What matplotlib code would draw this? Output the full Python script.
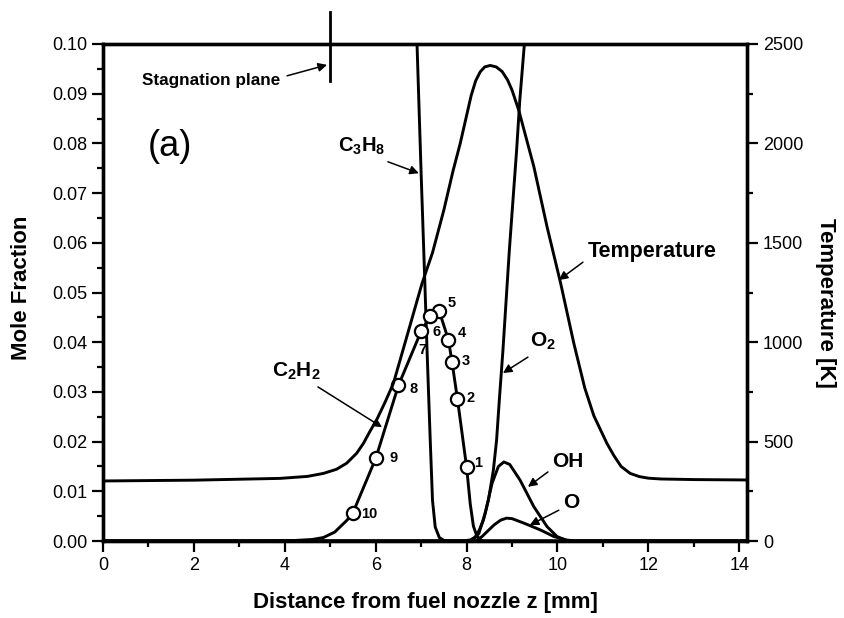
import matplotlib
matplotlib.use("Agg")
import matplotlib.pyplot as plt
from matplotlib.ticker import MultipleLocator

plt.rcParams['font.family'] = ['Liberation Sans', 'DejaVu Sans']
plt.rcParams['mathtext.fontset'] = 'custom'
plt.rcParams['mathtext.rm'] = 'Liberation Sans:bold'
plt.rcParams['mathtext.it'] = 'Liberation Sans:bold'
plt.rcParams['mathtext.bf'] = 'Liberation Sans:bold'

# ---- profiles along the burner axis (z in mm) ----
temp_z = [0.0, 2.0, 3.9, 4.5, 4.85, 5.14, 5.36, 5.58, 5.73, 5.87, 6.02, 6.2, 6.39, 6.7,
          7.02, 7.25, 7.5, 7.7, 7.86, 8.0, 8.1, 8.2, 8.3, 8.4, 8.52, 8.65, 8.78, 8.9,
          9.0, 9.15, 9.48, 9.77, 10.07, 10.36, 10.6, 10.8, 11.09, 11.24, 11.4, 11.6,
          11.8, 12.0, 12.27, 13.0, 14.17]
temp_K = [302, 306, 315, 325, 340, 361, 391, 441, 491, 550, 609, 695, 793, 1040,
          1296, 1450, 1665, 1860, 2000, 2140, 2240, 2315, 2360, 2385, 2392, 2385, 2362, 2320,
          2268, 2165, 1883, 1581, 1296, 994, 770, 630, 490, 430, 375, 340,
          324, 316, 312, 309, 307]

c3h8_z = [6.5, 6.91, 7.0, 7.08, 7.13, 7.20, 7.25, 7.31, 7.40, 7.52, 8.0, 14.17]
c3h8_x = [0.215, 0.0998, 0.0739, 0.0524, 0.0384, 0.0203, 0.0082, 0.0028, 0.0007, 0.0, 0.0, 0.0]

o2_z = [0.0, 7.9, 8.08, 8.19, 8.28, 8.37, 8.48, 8.59, 8.66, 8.72, 8.80, 8.87,
        8.94, 9.02, 9.10, 9.17, 9.27, 9.5, 10.0, 11.0, 14.17]
o2_x = [0.0, 0.0, 0.0002, 0.0008, 0.0022, 0.0042, 0.0082, 0.0143, 0.0203, 0.0283,
        0.0384, 0.0484, 0.0584, 0.0685, 0.0785, 0.0886, 0.0998, 0.13, 0.18, 0.21, 0.21]

oh_z = [0.0, 8.05, 8.15, 8.27, 8.41, 8.56, 8.7, 8.82, 8.95, 9.18, 9.48, 9.77,
        9.99, 10.2, 10.4, 14.17]
oh_x = [0.0, 0.0, 0.0003, 0.0015, 0.0056, 0.0116, 0.0150, 0.0159, 0.0154, 0.0122,
        0.0069, 0.0029, 0.0009, 0.0001, 0.0, 0.0]

o_z = [0.0, 8.2, 8.34, 8.6, 8.75, 8.88, 9.0, 9.26, 9.63, 9.92, 10.2, 10.4, 14.17]
o_x = [0.0, 0.0, 0.0009, 0.0032, 0.0042, 0.0046, 0.0045, 0.0036, 0.0022, 0.0009,
       0.0002, 0.0, 0.0]

c2h2_line_z = [0.0, 3.5, 4.2, 4.6, 4.85, 5.1, 5.37, 5.5, 6.0, 6.5, 7.0, 7.2, 7.4,
               7.6, 7.68, 7.8, 8.0, 8.08, 8.15, 8.23, 8.35, 14.17]
c2h2_line_x = [0.0, 0.0, 0.0001, 0.0003, 0.0007, 0.0018, 0.0042, 0.0057, 0.0166,
               0.0313, 0.0422, 0.0452, 0.0462, 0.0405, 0.0360, 0.0285, 0.0149,
               0.0075, 0.0030, 0.0009, 0.0, 0.0]

# numbered sampling points on the C2H2 profile
pt_labels = ['1', '2', '3', '4', '5', '6', '7', '8', '9', '10']
pt_z = [8.0, 7.8, 7.68, 7.6, 7.4, 7.2, 7.0, 6.5, 6.0, 5.5]
pt_x = [0.0149, 0.0285, 0.0360, 0.0405, 0.0462, 0.0452, 0.0422, 0.0313, 0.0166, 0.0057]
pt_label_offsets = [(8.6, 2.9), (9.6, 1.2), (10.1, 0.7), (9.6, 4.5), (9.1, 6.0),
                    (4.5, -11.5), (0.7, -13.7), (10.6, -2.4), (13.0, 0.0), (12.0, -0.7)]

stagnation_z = 5.0

x_ticks = [0, 2, 4, 6, 8, 10, 12, 14]
y_ticks = [0.00, 0.01, 0.02, 0.03, 0.04, 0.05, 0.06, 0.07, 0.08, 0.09, 0.10]
t_ticks = [0, 500, 1000, 1500, 2000, 2500]

# ---- figure ----
W, H = 844, 618
fig = plt.figure(figsize=(W / 100, H / 100), dpi=100)
ax = fig.add_axes([103 / W, 77 / H, 644 / W, 497 / H])
ax2 = ax.twinx()

LW = 2.1
k = 'black'
line_kw = dict(color=k, lw=LW, solid_joinstyle='round', solid_capstyle='round')
ax.plot(c3h8_z, c3h8_x, **line_kw)
ax.plot(o2_z, o2_x, **line_kw)
ax.plot(oh_z, oh_x, **line_kw)
ax.plot(o_z, o_x, **line_kw)
ax.plot(c2h2_line_z, c2h2_line_x, **line_kw)
ax.plot(pt_z, pt_x, linestyle='none', marker='o', markersize=9.5,
        markerfacecolor='white', markeredgecolor=k, markeredgewidth=1.6, zorder=5)
ax2.plot(temp_z, temp_K, **line_kw)

for lab, zz, xx, off in zip(pt_labels, pt_z, pt_x, pt_label_offsets):
    ax.annotate(lab, (zz, xx), xytext=off, textcoords='offset points',
                ha='center', va='center', fontsize=10.5, fontweight='bold', zorder=6)

# axes ranges and ticks
ax.set_xlim(0, 14.17)
ax.set_ylim(0, 0.10)
ax2.set_ylim(0, 2500)
ax.set_xticks(x_ticks)
ax.set_xticklabels([str(t) for t in x_ticks])
ax.xaxis.set_minor_locator(MultipleLocator(1))
ax.set_yticks(y_ticks)
ax.set_yticklabels([f'{t:.2f}' for t in y_ticks])
ax.yaxis.set_minor_locator(MultipleLocator(0.005))
ax2.set_yticks(t_ticks)
ax2.set_yticklabels([str(t) for t in t_ticks])
ax2.yaxis.set_minor_locator(MultipleLocator(250))

for a in (ax, ax2):
    for s in a.spines.values():
        s.set_linewidth(2.4)
ax.tick_params(which='major', direction='out', length=8, width=1.6, labelsize=13, pad=3.5,
               top=False, right=False)
ax.tick_params(which='minor', direction='out', length=4.3, width=1.6, top=False, right=False)
ax2.tick_params(which='major', direction='out', length=8, width=1.6, labelsize=13, pad=3.5)
ax2.tick_params(which='minor', direction='out', length=4.3, width=1.6)

ax.set_xlabel('Distance from fuel nozzle z [mm]', fontsize=16, fontweight='bold')
ax.set_ylabel('Mole Fraction', fontsize=16, fontweight='bold')
ax2.set_ylabel('Temperature [K]', fontsize=16, fontweight='bold', rotation=270)
ax.xaxis.set_label_coords(0.5, -0.103)
ax.yaxis.set_label_coords(-0.110, 0.51)
ax2.yaxis.set_label_coords(1.138, 0.48)

# stagnation plane marker
ax.plot([stagnation_z, stagnation_z], [0.0926, 0.1064], color=k, lw=2.0, clip_on=False)

arrow = dict(arrowstyle='-|>', color=k, lw=1.1, mutation_scale=13, shrinkA=0, shrinkB=0)
ax.annotate('', xy=(4.93, 0.0958), xytext=(4.05, 0.0936), arrowprops=arrow)
ax.text(2.376, 0.0926, 'Stagnation plane', ha='center', va='center',
        fontsize=12.3, fontweight='bold')

ax.text(1.47, 0.0793, '(a)', ha='center', va='center', fontsize=26)

ax.text(5.17, 0.0783, r'C$_3$H$_8$', ha='left', va='baseline', fontsize=14.5, fontweight='bold')
ax.annotate('', xy=(6.95, 0.0740), xytext=(6.27, 0.0763), arrowprops=arrow)

ax.text(10.67, 0.0571, 'Temperature', ha='left', va='baseline', fontsize=15.5, fontweight='bold')
ax.annotate('', xy=(10.03, 0.0525), xytext=(10.56, 0.0561), arrowprops=arrow)

ax.text(9.40, 0.0390, r'O$_2$', ha='left', va='baseline', fontsize=15, fontweight='bold')
ax.annotate('', xy=(8.80, 0.0338), xytext=(9.35, 0.0370), arrowprops=arrow)

ax.text(9.88, 0.0149, 'OH', ha='left', va='baseline', fontsize=15, fontweight='bold')
ax.annotate('', xy=(9.35, 0.0109), xytext=(9.79, 0.0139), arrowprops=arrow)

ax.text(10.12, 0.0066, 'O', ha='left', va='baseline', fontsize=15, fontweight='bold')
ax.annotate('', xy=(9.39, 0.0032), xytext=(10.03, 0.0062), arrowprops=arrow)

ax.text(3.72, 0.0330, r'C$_2$H$_2$', ha='left', va='baseline', fontsize=15, fontweight='bold')
ax.annotate('', xy=(6.14, 0.0229), xytext=(4.73, 0.0310), arrowprops=arrow)

fig.savefig('out.png', dpi=100)
